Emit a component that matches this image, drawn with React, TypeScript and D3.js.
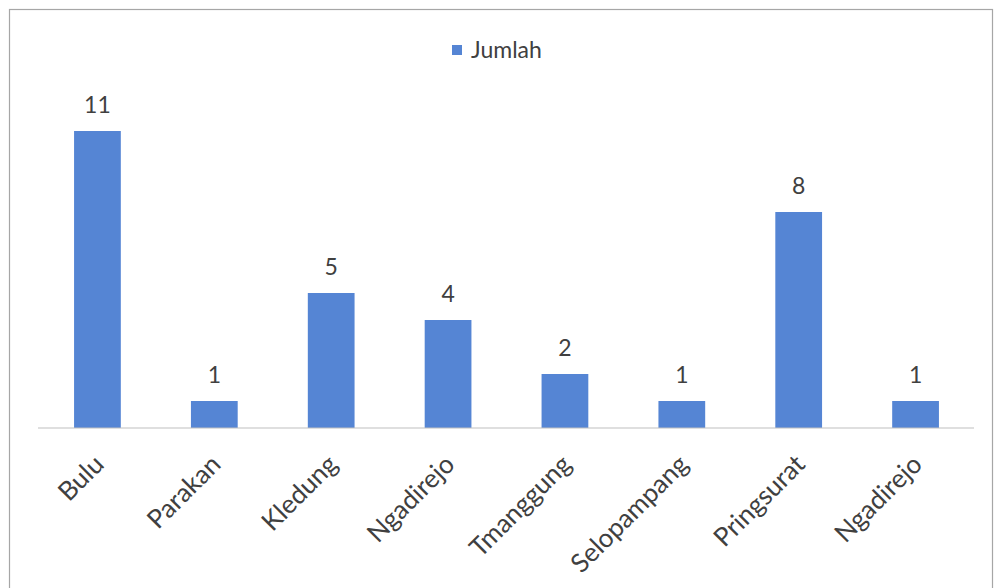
import React from "react";
import * as d3 from "d3";

// Jumlah per desa
const categories = [
  "Bulu",
  "Parakan",
  "Kledung",
  "Ngadirejo",
  "Tmanggung",
  "Selopampang",
  "Pringsurat",
  "Ngadirejo ",
];
const values = [11, 1, 5, 4, 2, 1, 8, 1];
const seriesName = "Jumlah";

const W = 994;
const H = 588;
const BAR_COLOR = "#5585d4";
const TEXT_COLOR = "#404040";
const FONT = "Lato, 'Open Sans', sans-serif";

export default function App() {
  const x = d3
    .scaleBand<string>()
    .domain(categories)
    .range([39, 974])
    .paddingInner(0.6)
    .paddingOuter(0.3);
  const y = d3.scaleLinear().domain([0, 12]).range([428, 104]);

  return (
    <div style={{ position: "fixed", left: 0, top: 0 }}>
      <svg width={W} height={H} style={{ display: "block", background: "#fff" }}>
        <rect x={9.5} y={9.5} width={983} height={600} fill="#fff" stroke="#a6a6a6" strokeWidth={1.2} />

        {/* legend */}
        <g transform="translate(452,45)">
          <rect x={0} y={0} width={10} height={10} fill={BAR_COLOR} />
          <text x={19} y={13} fontFamily={FONT} fontSize={23} fill={TEXT_COLOR}>
            {seriesName}
          </text>
        </g>

        {/* bars */}
        {values.map((v, i) => {
          const c = categories[i];
          return (
            <rect
              key={i}
              x={x(c)}
              y={y(v)}
              width={x.bandwidth()}
              height={y(0) - y(v)}
              fill={BAR_COLOR}
            />
          );
        })}

        {/* value labels */}
        {values.map((v, i) => {
          const c = categories[i];
          return (
            <text
              key={i}
              x={(x(c) as number) + x.bandwidth() / 2}
              y={y(v) - 18}
              textAnchor="middle"
              fontFamily={FONT}
              fontSize={23}
              fill={TEXT_COLOR}
            >
              {v}
            </text>
          );
        })}

        {/* baseline */}
        <line x1={38} x2={974} y1={y(0)} y2={y(0)} stroke="#bfbfbf" strokeWidth={1.2} />

        {/* category labels */}
        {categories.map((c, i) => {
          const cx = (x(c) as number) + x.bandwidth() / 2 + 8;
          const cy = y(0) + 38;
          return (
            <text
              key={i}
              transform={`translate(${cx},${cy}) rotate(-45)`}
              textAnchor="end"
              fontFamily={FONT}
              fontSize={26}
              fill={TEXT_COLOR}
            >
              {c.trim()}
            </text>
          );
        })}
      </svg>
    </div>
  );
}
